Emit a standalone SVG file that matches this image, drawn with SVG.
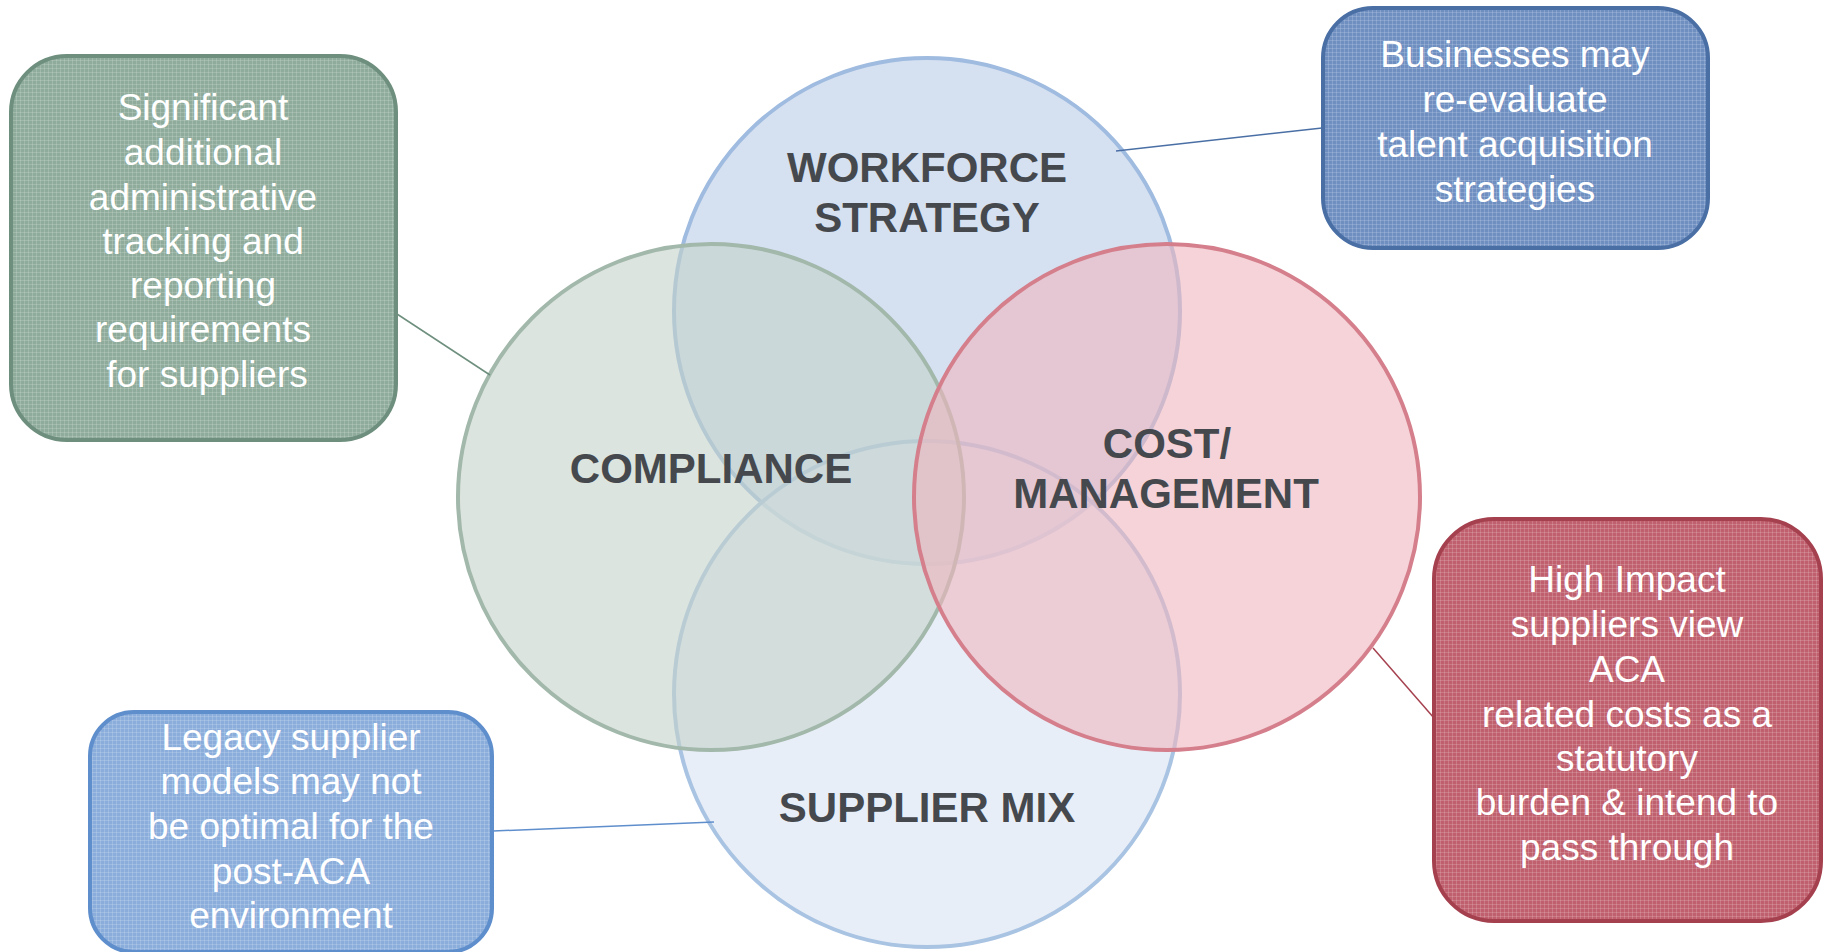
<svg xmlns="http://www.w3.org/2000/svg" width="1824" height="952" viewBox="0 0 1824 952">
  <defs>
    <!-- fine woven grid used as texture on the callout boxes -->
    <pattern id="weave" width="4" height="4" patternUnits="userSpaceOnUse">
      <path d="M0 0.5H4M0.5 0V4" stroke="#ffffff" stroke-opacity="0.16" stroke-width="1" fill="none"/>
    </pattern>
  </defs>
  <style>
    .venn { stroke-width: 4; }
    .label { font-family: "Liberation Sans", Arial, sans-serif; font-weight: bold; font-size: 42px; fill: #45494e; text-anchor: middle; }
    .note { font-family: "Liberation Sans", Arial, sans-serif; font-size: 37px; fill: #ffffff; text-anchor: middle; }
    .box { stroke-width: 4; }
    .link { fill: none; stroke-width: 1.5; }
  </style>
  <rect width="1824" height="952" fill="#ffffff"/>

  <!-- Venn circles: blue pair underneath, green and red on top -->
  <g id="workforce-strategy">
    <circle class="venn" cx="927" cy="311" r="253" fill="#cad8ed" fill-opacity="0.8" stroke="#9fbbdf"/>
  </g>
  <g id="supplier-mix">
    <circle class="venn" cx="927" cy="694" r="253" fill="#dbe5f3" fill-opacity="0.65" stroke="#a9c3e3"/>
  </g>
  <g id="compliance">
    <circle class="venn" cx="711" cy="497" r="253" fill="#c4d2c9" fill-opacity="0.6" stroke="#a2b8ab"/>
  </g>
  <g id="cost-management">
    <circle class="venn" cx="1167" cy="497" r="253" fill="#eeb5be" fill-opacity="0.6" stroke="#d47f8b"/>
  </g>

  <!-- Circle labels -->
  <g id="circle-labels">
    <text class="label" x="927" y="182">WORKFORCE</text>
    <text class="label" x="927" y="232">STRATEGY</text>
    <text class="label" x="711" y="483">COMPLIANCE</text>
    <text class="label" x="1167" y="458">COST/</text>
    <text class="label" x="1166" y="508">MANAGEMENT</text>
    <text class="label" x="927" y="822">SUPPLIER MIX</text>
  </g>

  <!-- Connectors from callouts to circles -->
  <g id="connectors">
    <line class="link" x1="397" y1="314" x2="490" y2="375" stroke="#6e8f7e"/>
    <line class="link" x1="1116" y1="151" x2="1322" y2="128" stroke="#4a6fa5"/>
    <line class="link" x1="1373" y1="648" x2="1434" y2="718" stroke="#a5414f"/>
    <line class="link" x1="493" y1="831" x2="714" y2="822" stroke="#5f8ecc"/>
  </g>

  <!-- Callout: compliance -->
  <g id="note-compliance">
    <rect class="box" x="11" y="56" width="385" height="384" rx="56" fill="#8eab9b" stroke="#6e8f7e"/>
    <rect x="13" y="58" width="381" height="380" rx="54" fill="url(#weave)"/>
    <text class="note" x="203" y="120">Significant</text>
    <text class="note" x="203" y="165">additional</text>
    <text class="note" x="203" y="210">administrative</text>
    <text class="note" x="203" y="254">tracking and</text>
    <text class="note" x="203" y="298">reporting</text>
    <text class="note" x="203" y="342">requirements</text>
    <text class="note" x="207" y="387">for suppliers</text>
  </g>

  <!-- Callout: workforce strategy -->
  <g id="note-workforce">
    <rect class="box" x="1323" y="8" width="385" height="240" rx="50" fill="#6f8fc1" stroke="#4a6fa5"/>
    <rect x="1325" y="10" width="381" height="236" rx="48" fill="url(#weave)"/>
    <text class="note" x="1515" y="67">Businesses may</text>
    <text class="note" x="1515" y="112">re-evaluate</text>
    <text class="note" x="1515" y="157">talent acquisition</text>
    <text class="note" x="1515" y="202">strategies</text>
  </g>

  <!-- Callout: cost / management -->
  <g id="note-cost">
    <rect class="box" x="1434" y="519" width="387" height="402" rx="60" fill="#c0606e" stroke="#a5414f"/>
    <rect x="1436" y="521" width="383" height="398" rx="58" fill="url(#weave)"/>
    <text class="note" x="1627" y="592">High Impact</text>
    <text class="note" x="1627" y="637">suppliers view</text>
    <text class="note" x="1627" y="682">ACA</text>
    <text class="note" x="1627" y="727">related costs as a</text>
    <text class="note" x="1627" y="771">statutory</text>
    <text class="note" x="1627" y="815">burden &amp; intend to</text>
    <text class="note" x="1627" y="860">pass through</text>
  </g>

  <!-- Callout: supplier mix -->
  <g id="note-supplier">
    <rect class="box" x="90" y="712" width="402" height="240" rx="44" fill="#8aaddb" stroke="#5f8ecc"/>
    <rect x="92" y="714" width="398" height="236" rx="42" fill="url(#weave)"/>
    <text class="note" x="291" y="750">Legacy supplier</text>
    <text class="note" x="291" y="794">models may not</text>
    <text class="note" x="291" y="839">be optimal for the</text>
    <text class="note" x="291" y="884">post-ACA</text>
    <text class="note" x="291" y="928">environment</text>
  </g>
</svg>
